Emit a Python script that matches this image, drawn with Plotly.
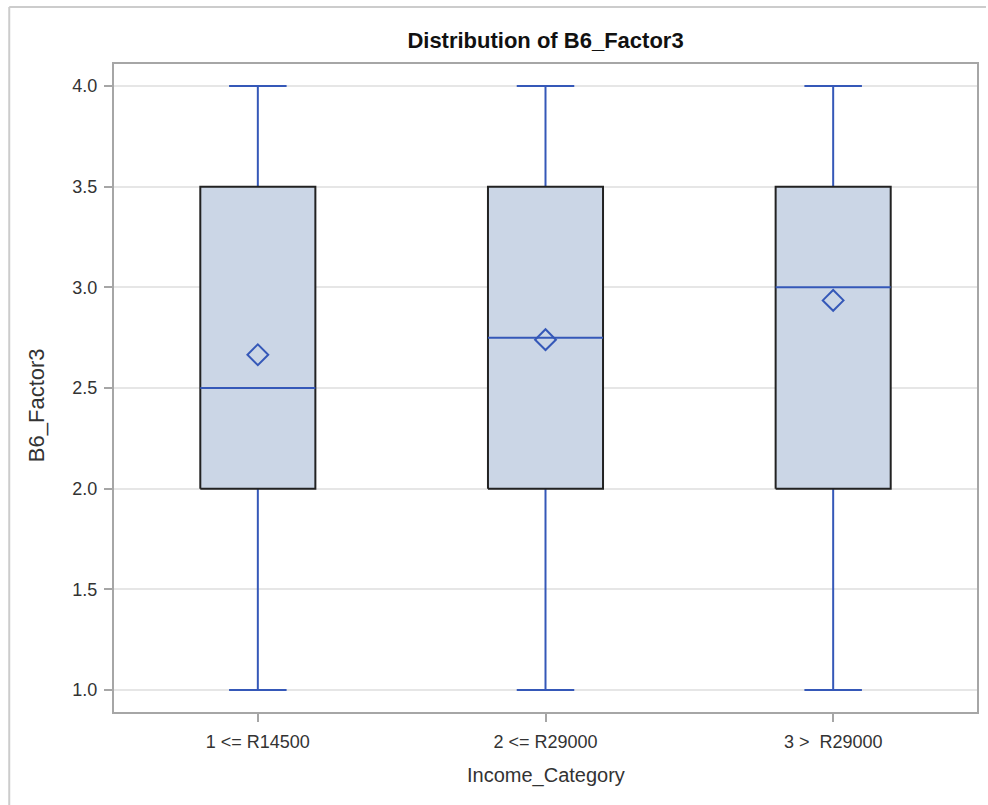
import plotly.graph_objects as go

categories = ["1 <= R14500", "2 <= R29000", "3 >  R29000"]
mins = [1.0, 1.0, 1.0]
q1s = [2.0, 2.0, 2.0]
medians = [2.5, 2.75, 3.0]
q3s = [3.5, 3.5, 3.5]
maxs = [4.0, 4.0, 4.0]
means = [2.665, 2.74, 2.935]
y_ticks = [1.0, 1.5, 2.0, 2.5, 3.0, 3.5, 4.0]

BLUE = "#3558b8"
FILL = "#cbd6e6"
EDGE = "#222222"
half_box = 0.2
half_cap = 0.1

L, R, T, B = 114, 9, 64, 93
W, H = 988, 805
PW, PH = W - L - R, H - T - B

fig = go.Figure()
for i, c in enumerate(categories):
    fig.add_trace(go.Scatter(x=[i, i, None, i, i], y=[q3s[i], maxs[i], None, q1s[i], mins[i]],
                             mode="lines", line=dict(color=BLUE, width=2), hoverinfo="skip", showlegend=False))
    fig.add_trace(go.Scatter(x=[i - half_cap, i + half_cap, None, i - half_cap, i + half_cap],
                             y=[maxs[i], maxs[i], None, mins[i], mins[i]],
                             mode="lines", line=dict(color=BLUE, width=2), hoverinfo="skip", showlegend=False))
    fig.add_trace(go.Scatter(x=[i - half_box, i + half_box, i + half_box, i - half_box, i - half_box],
                             y=[q1s[i], q1s[i], q3s[i], q3s[i], q1s[i]],
                             mode="lines", fill="toself", fillcolor=FILL,
                             line=dict(color=EDGE, width=2), hoverinfo="skip", showlegend=False))
    fig.add_trace(go.Scatter(x=[i - half_box, i + half_box], y=[medians[i], medians[i]],
                             mode="lines", line=dict(color=BLUE, width=2), hoverinfo="skip", showlegend=False))
fig.add_trace(go.Scatter(x=list(range(len(categories))), y=means, mode="markers",
                         marker=dict(symbol="diamond-open", size=16, color=BLUE, line=dict(width=2)),
                         showlegend=False))

fig.update_layout(
    width=W, height=H,
    margin=dict(l=L, r=R, t=T, b=B),
    paper_bgcolor="white", plot_bgcolor="white",
    font=dict(family="Arial, Liberation Sans, sans-serif", color="#333333", size=18),
    title=dict(text="<b>Distribution of B6_Factor3</b>", x=0.5, xanchor="center",
               xref="paper", y=1 - 40 / H, yanchor="middle",
               font=dict(size=22, color="#111111")),
    xaxis=dict(range=[-0.5, 2.5], tickmode="array", tickvals=list(range(len(categories))),
               ticktext=categories, showgrid=False, zeroline=False,
               showline=True, linecolor="#a6a6a6", linewidth=2, mirror=True,
               ticks="outside", ticklen=8, tickcolor="#a6a6a6", tickwidth=1.5,
               ticklabelstandoff=4),
    yaxis=dict(range=[0.891, 4.109], tickmode="array", tickvals=y_ticks,
               ticktext=[f"{v:.1f}" for v in y_ticks],
               showgrid=True, gridcolor="#e6e6e6", gridwidth=2, zeroline=False,
               showline=True, linecolor="#a6a6a6", linewidth=2, mirror=True,
               ticks="outside", ticklen=8, tickcolor="#a6a6a6", tickwidth=1.5,
               ticklabelstandoff=3),
)

fig.add_annotation(text="Income_Category", xref="paper", yref="paper",
                   x=0.5, y=(H - B - 775) / PH, xanchor="center", yanchor="middle",
                   showarrow=False, font=dict(size=20, color="#333333"))
fig.add_annotation(text="B6_Factor3", xref="paper", yref="paper", textangle=-90,
                   x=(36 - L) / PW, y=(H - B - 405) / PH, xanchor="center", yanchor="middle",
                   showarrow=False, font=dict(size=22, color="#333333"))

# outer frame (left and top edges of the screenshot border)
fig.add_shape(type="line", xref="paper", yref="paper",
              x0=(9 - L) / PW, x1=(W - L) / PW, y0=(H - B - 7) / PH, y1=(H - B - 7) / PH,
              line=dict(color="#cccccc", width=2))
fig.add_shape(type="line", xref="paper", yref="paper",
              x0=(9 - L) / PW, x1=(9 - L) / PW, y0=-B / PH, y1=(H - B - 7) / PH,
              line=dict(color="#cccccc", width=2))

fig.write_html("out.html")
